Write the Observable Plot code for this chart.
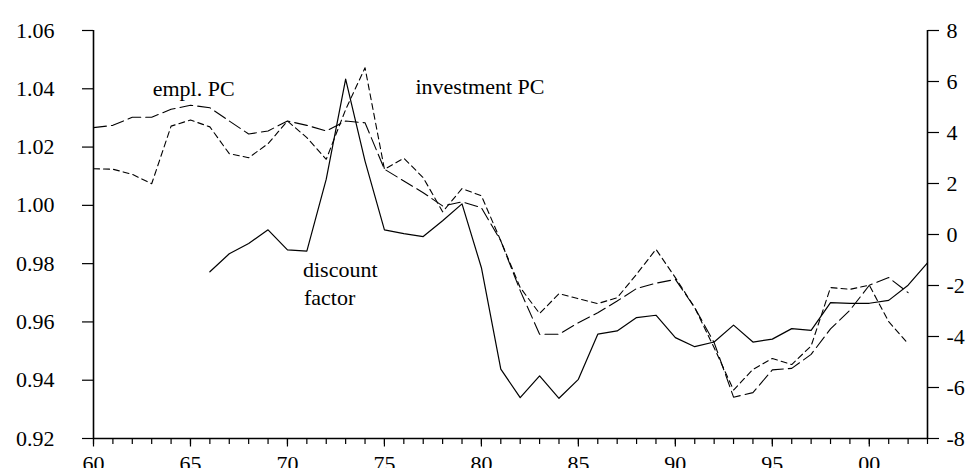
<!DOCTYPE html>
<html><head><meta charset="utf-8">
<script src="https://cdn.jsdelivr.net/npm/d3@7"></script>
<script src="https://cdn.jsdelivr.net/npm/@observablehq/plot@0.6"></script>
<style>
html,body{margin:0;padding:0;background:#fff;overflow:hidden;}
#chart svg{display:block;overflow:visible;}
#chart svg text{font-family:"Liberation Serif","Times New Roman",serif;font-variant-numeric:normal;}
</style>
</head><body><div id="chart"></div>
<script>
// ---- data ----
const pcYears = [1960,1961,1962,1963,1964,1965,1966,1967,1968,1969,1970,1971,1972,1973,1974,1975,1976,1977,1978,1979,1980,1981,1982,1983,1984,1985,1986,1987,1988,1989,1990,1991,1992,1993,1994,1995,1996,1997,1998,1999,2000,2001,2002];
const emplPC = [4.19,4.28,4.60,4.60,4.91,5.07,4.97,4.45,3.94,4.06,4.45,4.28,4.06,4.45,4.38,2.56,2.10,1.64,1.12,1.28,1.05,-0.25,-2.20,-3.91,-3.91,-3.46,-3.07,-2.61,-2.12,-1.91,-1.76,-2.87,-4.24,-6.38,-6.20,-5.31,-5.25,-4.70,-3.70,-2.97,-1.99,-1.69,-2.28];
const investmentPC = [2.58,2.56,2.36,1.99,4.25,4.49,4.22,3.17,3.01,3.56,4.45,3.80,2.95,4.90,6.54,2.56,2.99,2.23,0.89,1.80,1.52,-0.25,-2.08,-3.10,-2.32,-2.52,-2.71,-2.48,-1.56,-0.58,-1.69,-2.87,-4.44,-6.10,-5.29,-4.86,-5.10,-4.37,-2.08,-2.15,-1.99,-3.42,-4.28];
const discountYears = [1966,1967,1968,1969,1970,1971,1972,1973,1974,1975,1976,1977,1978,1979,1980,1981,1982,1983,1984,1985,1986,1987,1988,1989,1990,1991,1992,1993,1994,1995,1996,1997,1998,1999,2000,2001,2002,2003];
const discountFactor = [0.9772,0.9834,0.9869,0.9916,0.9847,0.9843,1.0090,1.0433,1.0152,0.9916,0.9903,0.9893,0.9947,1.0005,0.9786,0.9438,0.9340,0.9415,0.9338,0.9403,0.9558,0.9569,0.9615,0.9623,0.9546,0.9515,0.9531,0.9589,0.9531,0.9541,0.9577,0.9571,0.9666,0.9664,0.9664,0.9674,0.9726,0.9803];
const leftTicks = [0.92,0.94,0.96,0.98,1.00,1.02,1.04,1.06];
const rightTicks = [-8,-6,-4,-2,0,2,4,6,8];
const majorYears = [1960,1965,1970,1975,1980,1985,1990,1995,2000];
const seriesLabels = [
  {text:"empl. PC", year:1963.05, value:1.0374},
  {text:"investment PC", year:1976.6, value:1.0382},
  {text:"discount", year:1970.8, value:0.9754},
  {text:"factor", year:1970.85, value:0.9658}
];

// right axis (PC units) mapped onto left axis (discount units)
const leftDomain = [0.92, 1.06], rightDomain = [-8, 8];
const toLeft = v => leftDomain[0] + (v - rightDomain[0]) * (leftDomain[1]-leftDomain[0])/(rightDomain[1]-rightDomain[0]);
const toRight = l => rightDomain[0] + (l - leftDomain[0]) * (rightDomain[1]-rightDomain[0])/(leftDomain[1]-leftDomain[0]);

const empl = pcYears.map((y,i)=>({year:y, value:toLeft(emplPC[i])}));
const inv = pcYears.map((y,i)=>({year:y, value:toLeft(investmentPC[i])}));
const disc = discountYears.map((y,i)=>({year:y, value:discountFactor[i]}));
const allYears = d3.range(1960, 2004);
const serif = "Liberation Serif";

const chart = Plot.plot({
  width: 967,
  height: 468,
  marginLeft: 93,
  marginRight: 40,
  marginTop: 30,
  marginBottom: 30,
  style: {fontFamily: "'Liberation Serif', 'Times New Roman', serif", fontSize: "22px", color: "#000", background: "#fff"},
  x: {domain: [1960, 2003], label: null},
  y: {domain: leftDomain, label: null},
  marks: [
    Plot.axisX({ticks: allYears, tickSize: 6, tickFormat: () => "", label: null, strokeWidth: 1.2}),
    Plot.axisX({ticks: majorYears, tickSize: 8.5, tickPadding: 8.5, tickFormat: d => String(d % 100).padStart(2, "0"), label: null, strokeWidth: 1.2, fontSize: 22, fontFamily: serif}),
    Plot.axisY({anchor: "left", ticks: leftTicks, tickSize: 11, tickPadding: 28, tickFormat: d => d.toFixed(2), label: null, strokeWidth: 1.2, fontSize: 22, fontFamily: serif}),
    Plot.axisY({anchor: "right", ticks: rightTicks.map(toLeft), tickSize: 11, tickPadding: 8, tickFormat: d => String(Math.round(toRight(d))), label: null, strokeWidth: 1.2, fontSize: 22, fontFamily: serif}),
    Plot.ruleX([1960, 2003], {stroke: "#000", strokeWidth: 1.6}),
    Plot.ruleY([leftDomain[0]], {stroke: "#000", strokeWidth: 1.6}),
    Plot.line(empl, {x: "year", y: "value", stroke: "#000", strokeWidth: 1.1, strokeDasharray: "13,5"}),
    Plot.line(inv, {x: "year", y: "value", stroke: "#000", strokeWidth: 1.1, strokeDasharray: "6,4"}),
    Plot.line(disc, {x: "year", y: "value", stroke: "#000", strokeWidth: 1.2}),
    Plot.text(seriesLabels, {x: "year", y: "value", text: "text", textAnchor: "start", lineAnchor: "bottom", fill: "#000", fontSize: 22, fontFamily: serif})
  ]
});
document.getElementById("chart").appendChild(chart);
</script>
</body></html>
